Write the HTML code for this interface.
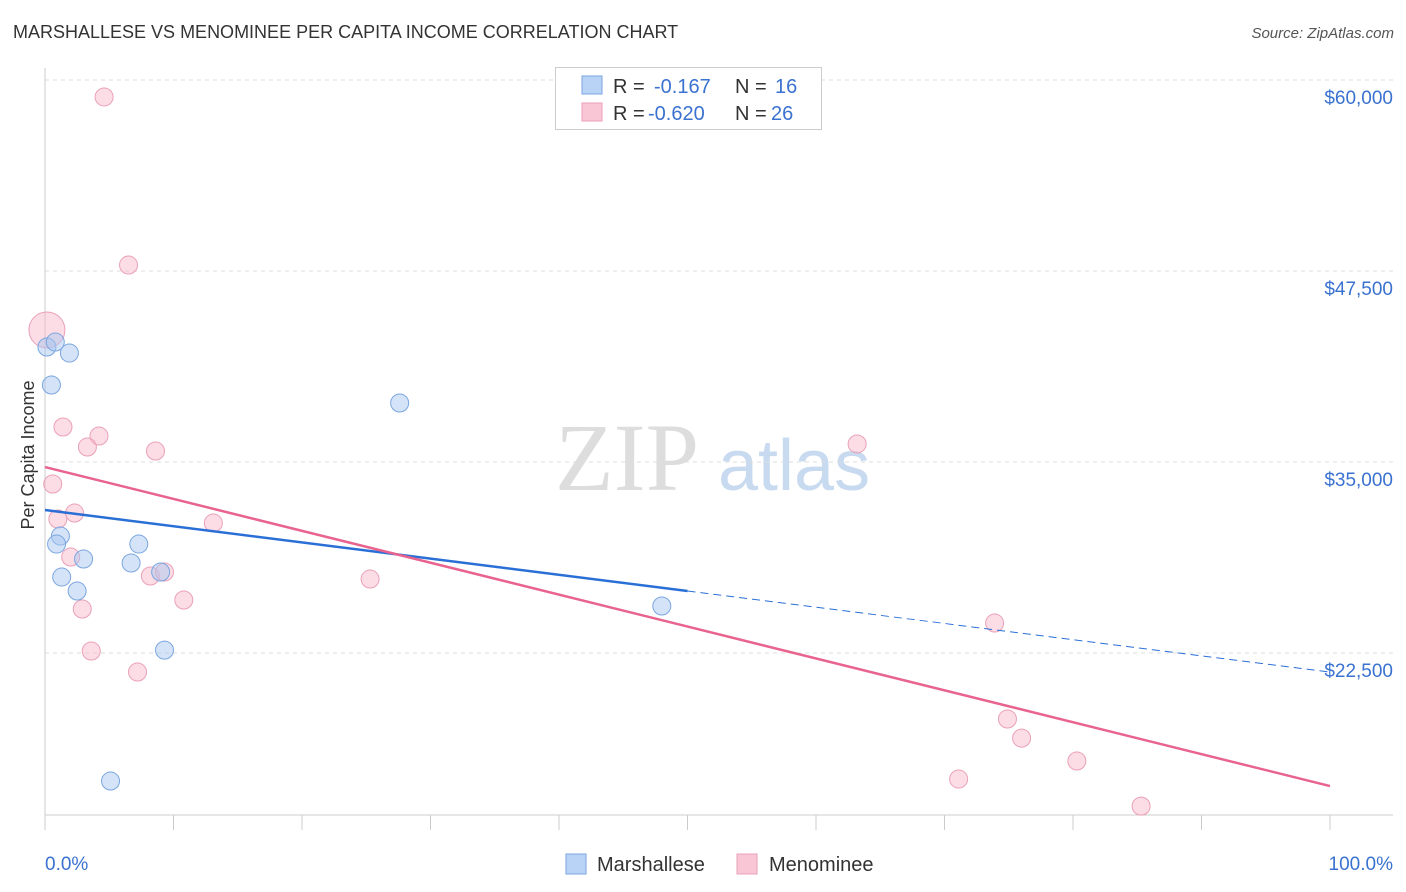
<!DOCTYPE html>
<html><head><meta charset="utf-8"><style>
body{margin:0;background:#fff;font-family:"Liberation Sans",sans-serif;}
#wrap{position:relative;width:1406px;height:892px;overflow:hidden;}
.t{position:absolute;white-space:nowrap;}
</style></head><body>
<div id="wrap">
<div class="t" style="left:13px;top:22px;font-size:18px;color:#333;">MARSHALLESE VS MENOMINEE PER CAPITA INCOME CORRELATION CHART</div>
<div class="t" style="right:12px;top:25px;font-size:15px;color:#555;font-style:italic;">Source: ZipAtlas.com</div>
<svg id="svg" width="1406" height="892" style="position:absolute;left:0;top:0;"></svg>
</div>
<script>
const yTicks=[60000,47500,35000,22500];
const yTickLabels=["$60,000","$47,500","$35,000","$22,500"];
const mX=[0.15,0.8,1.9,0.5,27.6,1.2,0.9,7.3,3.0,6.7,1.3,9.0,2.5,48.0,9.3,5.1];
const mY=[42525,42850,42130,40040,38860,30155,29630,29630,28650,28390,27470,27800,26555,25575,22690,14120];
const nX=[4.6,6.5,0.15,1.4,4.2,3.3,8.6,63.2,0.6,1.0,2.3,13.1,2.0,8.2,9.3,25.3,10.8,2.9,3.6,7.2,73.9,74.9,76.0,80.3,71.1,85.3];
const nY=[58890,47890,43640,37290,36700,35980,35720,36180,33560,31270,31660,31005,28780,27540,27800,27340,25970,25380,22630,21255,24460,18180,16930,15430,14250,12480];
const nR=[9,9,18,9,9,9,9,9,9,9,9,9,9,9,9,9,9,9,9,9,9,9,9,9,9,9];
const mLine=[31857,21253];
const nLine=[34671,13793];
const mSolidEnd=50;
const NS="http://www.w3.org/2000/svg";
const svg=document.getElementById('svg');
const X=p=>45+p*12.85;
const Y=v=>80+(60000-v)*191/12500;
function mk(tag,attrs,name){const e=document.createElementNS(NS,tag);for(const k in attrs)e.setAttribute(k,attrs[k]);


svg.appendChild(e);return e;}
// watermark
let w=mk('text',{x:555,y:490,'font-size':96,'font-family':'Liberation Serif,serif',fill:'#ddd'},'watermark-zip');w.textContent='ZIP';
w=mk('text',{x:718,y:490,'font-size':72,'font-family':'Liberation Sans,sans-serif',fill:'#c8daf0'},'watermark-atlas');w.textContent='atlas';
yTicks.forEach((v,i)=>{
 mk('line',{x1:45,x2:1393,y1:Y(v),y2:Y(v),stroke:'#ddd','stroke-dasharray':'4,4'},'gridline');
 const t=mk('text',{x:1393,y:Y(v)+24,'text-anchor':'end','font-size':19,fill:'#3a72d0'},'y-tick-label');t.textContent=yTickLabels[i];
});
mk('line',{x1:45,x2:45,y1:68,y2:815,stroke:'#ccc'},'y-axis');
mk('line',{x1:45,x2:1393,y1:815,y2:815,stroke:'#ccc'},'x-axis');
for(let i=0;i<=10;i++)mk('line',{x1:X(i*10),x2:X(i*10),y1:815,y2:830,stroke:'#ccc'},'x-tick');
let t=mk('text',{x:45,y:870,'font-size':19,fill:'#3a72d0'},'x-min-label');t.textContent='0.0%';
t=mk('text',{x:1393,y:870,'text-anchor':'end','font-size':19,fill:'#3a72d0'},'x-max-label');t.textContent='100.0%';
t=mk('text',{x:0,y:0,'font-size':18,fill:'#333',transform:'translate(34,455) rotate(-90)','text-anchor':'middle'},'y-axis-title');t.textContent='Per Capita Income';
nX.forEach((x,i)=>mk('circle',{cx:X(x),cy:Y(nY[i]),r:nR[i],fill:'rgba(248,180,200,0.45)',stroke:'#eaa0b8','stroke-width':1},'menominee-point'));
mX.forEach((x,i)=>mk('circle',{cx:X(x),cy:Y(mY[i]),r:9,fill:'rgba(170,200,240,0.5)',stroke:'#7aa6e0','stroke-width':1},'marshallese-point'));
const ml=p=>mLine[0]+(mLine[1]-mLine[0])*p/100;
mk('line',{x1:X(0),y1:Y(ml(0)),x2:X(mSolidEnd),y2:Y(ml(mSolidEnd)),stroke:'#2a6fd6','stroke-width':2.5},'marshallese-trendline');
mk('line',{x1:X(mSolidEnd),y1:Y(ml(mSolidEnd)),x2:X(100),y2:Y(ml(100)),stroke:'#2a6fd6','stroke-width':1,'stroke-dasharray':'8,5'},'marshallese-trendline-extension');
mk('line',{x1:X(0),y1:Y(nLine[0]),x2:X(100),y2:Y(nLine[1]),stroke:'#e8648e','stroke-width':2.5},'menominee-trendline');
// top legend
mk('rect',{x:555.5,y:67.5,width:266,height:62,fill:'#fff',stroke:'#ccc'},'stats-legend');
mk('rect',{x:582,y:76,width:20,height:18,fill:'#b8d3f5',stroke:'#7aa6e0'},'legend-swatch-marshallese');
mk('rect',{x:582,y:103,width:20,height:18,fill:'#f8c6d5',stroke:'#eaa0b8'},'legend-swatch-menominee');
function txt(x,y,s,c,n){const e=mk('text',{x:x,y:y,'font-size':20,fill:c},n);e.textContent=s;}
txt(613,93,'R =','#333','r-label');txt(654,93,'-0.167','#3a72d0','r-value-marshallese');
txt(735,93,'N =','#333','n-label');txt(775,93,'16','#3a72d0','n-value-marshallese');
txt(613,120,'R =','#333','r-label');txt(648,120,'-0.620','#3a72d0','r-value-menominee');
txt(735,120,'N =','#333','n-label');txt(771,120,'26','#3a72d0','n-value-menominee');
// bottom legend
mk('rect',{x:566,y:854,width:20,height:20,fill:'#b8d3f5',stroke:'#7aa6e0'},'legend-entry-marshallese-swatch');
txt(597,871,'Marshallese','#333','legend-entry-marshallese');
mk('rect',{x:737,y:854,width:20,height:20,fill:'#f8c6d5',stroke:'#eaa0b8'},'legend-entry-menominee-swatch');
txt(769,871,'Menominee','#333','legend-entry-menominee');
</script>
</body></html>
